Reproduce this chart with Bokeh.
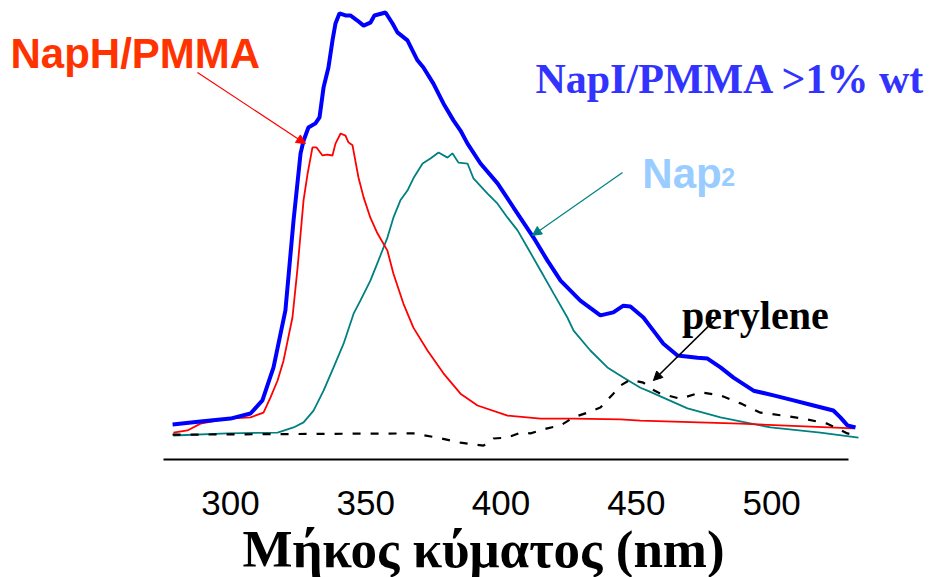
from bokeh.plotting import figure
from bokeh.models import Range1d, FixedTicker, Label, Arrow, NormalHead, Title
from bokeh.embed import file_html
from bokeh.resources import INLINE

# ---- data (wavelength nm, intensity a.u.) ----
blue_x = [278.6, 288.9, 300.0, 307.4, 311.8, 315.9, 320.3, 323.3, 325.9, 327.0, 328.8, 331.4, 332.9,
          334.4, 336.2, 337.7, 338.8, 340.3, 342.5, 344.3, 346.9, 349.2, 351.7, 353.2, 357.3, 359.9,
          361.7, 365.4, 369.1, 371.3, 375.0, 378.7, 382.4, 385.0, 387.6, 392.4, 398.7, 404.6, 412.0,
          417.1, 422.0, 429.3, 436.7, 441.5, 445.2, 447.8, 452.6, 456.3, 460.0, 465.2, 472.6, 476.3,
          481.1, 485.9, 493.3, 500.7, 508.1, 515.5, 522.8, 525.4, 528.0, 531.0]
blue_y = [2.6, 3.3, 4.0, 5.2, 8.3, 16.1, 29.6, 50.8, 66.7, 69.7, 72.8, 73.8, 75.2,
          82.3, 87.0, 93.4, 97.4, 99.8, 99.3, 99.3, 98.1, 96.9, 97.6, 99.3, 100.0, 97.4,
          95.3, 93.4, 88.7, 87.0, 83.2, 78.5, 74.5, 72.1, 69.0, 64.3, 59.6, 53.9, 46.8,
          41.4, 36.6, 31.9, 28.4, 29.1, 30.7, 30.5, 27.9, 24.8, 21.7, 18.9, 18.4, 18.2,
          16.1, 13.7, 10.6, 9.5, 8.3, 7.1, 5.9, 4.3, 2.4, 1.9]

red_x = [278.9, 284.1, 288.9, 298.9, 307.4, 312.2, 314.8, 317.4, 319.6, 322.9, 324.8, 327.0, 328.5,
         330.3, 331.8, 334.0, 335.8, 337.7, 338.8, 340.7, 342.5, 343.6, 345.1, 347.3, 349.2, 351.7,
         354.3, 358.0, 360.2, 363.9, 367.6, 372.8, 378.7, 385.0, 391.3, 402.4, 414.6, 426.8, 444.1,
         451.5, 488.5, 530.2]
red_y = [0.7, 1.2, 2.8, 4.0, 4.3, 5.4, 9.0, 13.0, 17.7, 27.9, 39.7, 55.6, 61.9,
         68.1, 68.1, 66.2, 66.4, 66.2, 69.0, 71.4, 70.9, 69.3, 68.6, 61.0, 56.3, 51.5,
         47.8, 43.7, 38.3, 31.2, 25.5, 20.1, 14.7, 9.9, 7.1, 4.7, 4.0, 4.0, 3.8,
         3.5, 2.8, 1.7]

teal_x = [278.9, 298.9, 317.4, 323.3, 327.0, 330.7, 334.4, 338.1, 341.8, 345.5, 348.0, 351.7, 354.7,
          358.0, 360.2, 362.8, 365.4, 367.6, 371.0, 373.9, 376.9, 380.2, 382.0, 384.3, 387.6, 389.8,
          395.0, 398.7, 402.4, 406.1, 409.8, 414.6, 419.4, 424.5, 426.8, 433.0, 439.3, 445.2, 451.5,
          454.1, 468.9, 481.1, 499.6, 518.0, 532.1]
teal_y = [0.0, 0.5, 0.7, 1.9, 3.1, 5.9, 10.6, 16.1, 21.7, 28.8, 31.9, 36.6, 41.4,
          46.8, 51.5, 55.6, 57.9, 60.8, 64.3, 65.5, 66.9, 65.7, 66.7, 64.5, 64.3, 60.8,
          57.2, 54.8, 51.5, 48.5, 44.4, 39.0, 33.6, 27.9, 24.8, 20.1, 16.1, 13.7, 11.3,
          10.6, 6.4, 4.3, 1.9, 0.7, -0.5]

pery_x = [278.6, 367.6, 376.5, 385.0, 393.5, 397.2, 402.4, 407.2, 410.9, 417.1, 422.0, 426.8, 431.9,
          436.7, 441.5, 444.1, 447.8, 452.6, 455.2, 458.9, 466.3, 473.7, 481.1, 488.5, 495.9, 504.4,
          511.8, 520.6, 528.0, 530.2]
pery_y = [0.2, 0.5, -0.5, -1.7, -2.4, -0.7, -0.5, 0.7, 0.5, 1.7, 2.4, 4.3, 5.4,
          6.6, 9.9, 11.8, 13.2, 12.5, 11.1, 9.9, 8.7, 10.2, 9.5, 7.6, 5.4, 4.7,
          4.0, 2.8, 0.5, 0.2]

tick_values = [300, 350, 400, 450, 500]
axis_span = (275.2, 528.4)
x_label = "Μήκος κύματος (nm)"

# ---- figure ----
p = figure(width=937, height=577, output_backend="svg", toolbar_location=None,
           x_range=Range1d(215.0, 561.3), y_range=Range1d(-5.67, 102.84),
           min_border_left=0, min_border_right=0, min_border_top=0, min_border_bottom=118)
p.outline_line_color = None
p.xgrid.visible = False
p.ygrid.visible = False
p.yaxis.visible = False
p.background_fill_color = "white"
p.border_fill_color = "white"

ax = p.xaxis[0]
ax.ticker = FixedTicker(ticks=tick_values)
ax.bounds = axis_span
ax.axis_line_color = "black"
ax.axis_line_width = 2
ax.major_tick_line_color = None
ax.minor_tick_line_color = None
ax.major_tick_out = 0
ax.major_tick_in = 0
ax.major_label_standoff = 31
ax.major_label_text_font = "Liberation Sans"
ax.major_label_text_font_size = "35px"
ax.major_label_text_color = "black"

p.add_layout(Title(text=x_label, align="left", offset=242, standoff=0,
                   text_font="Liberation Serif", text_font_size="53px",
                   text_font_style="bold", text_color="black"), "below")

p.line(teal_x, teal_y, line_color="#008080", line_width=1.8)
p.line(red_x, red_y, line_color="#FF0000", line_width=1.8)
p.line(pery_x, pery_y, line_color="black", line_width=2.2, line_dash="8 10")
p.line(blue_x, blue_y, line_color="#0000FF", line_width=4)

# arrows
p.add_layout(Arrow(x_start=287.8, y_start=85.8, x_end=327.7, y_end=69.0,
                   line_color="#FF0000", line_width=1.2,
                   end=NormalHead(size=9, fill_color="#FF0000", line_color="#FF0000")))
p.add_layout(Arrow(x_start=444.9, y_start=62.2, x_end=411.6, y_end=47.3,
                   line_color="#008080", line_width=1.2,
                   end=NormalHead(size=9, fill_color="#008080", line_color="#008080")))
p.add_layout(Arrow(x_start=479.6, y_start=27.7, x_end=456.3, y_end=13.0,
                   line_color="black", line_width=1.5,
                   end=NormalHead(size=9, fill_color="black", line_color="black")))

# labels
def lab(x, y, t, font, size, color, style="bold", align="left"):
    p.add_layout(Label(x=x, y=y, text=t, text_font=font, text_font_size=size,
                       text_color=color, text_font_style=style, text_align=align,
                       text_baseline="alphabetic"))

lab(218.7, 90.3, "NapH/PMMA", "Liberation Sans", "42px", "#FF3300")
lab(412.7, 84.2, "NapI/PMMA >1% wt", "Liberation Serif", "42px", "#3333FF")
lab(452.2, 62.0, "Nap", "Liberation Sans", "42px", "#99CCFF")
lab(481.4, 61.0, "2", "Liberation Sans", "25px", "#99CCFF")
lab(466.9, 28.4, "perylene", "Liberation Serif", "40px", "black")

open("out.html", "w").write(file_html(p, INLINE))
